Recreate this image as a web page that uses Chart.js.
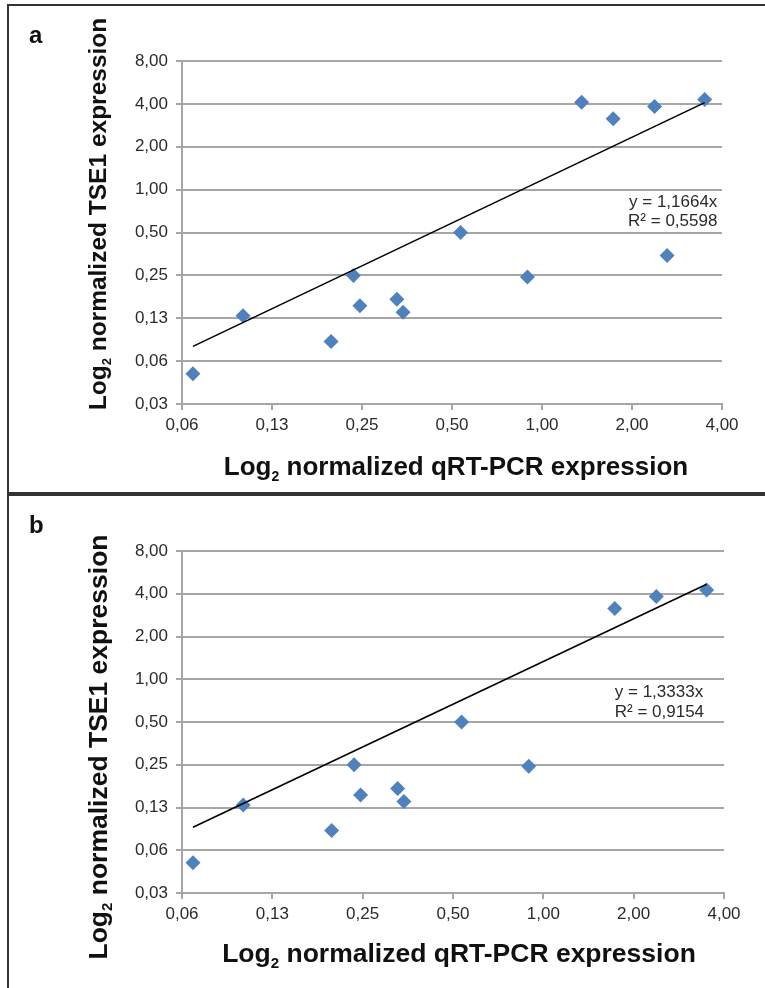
<!DOCTYPE html>
<html>
<head>
<meta charset="utf-8">
<script src="https://cdn.jsdelivr.net/npm/chart.js@4.4.1/dist/chart.umd.min.js"></script>
<style>
  html, body { margin: 0; padding: 0; background: #fff; }
  body { width: 765px; height: 988px; position: relative; overflow: hidden; }
  .frame { position: absolute; left: 7px; width: 800px; border: 2px solid #333; border-right: none; }
  #frameA { top: 4px; height: 488px; }
  #frameB { top: 492px; height: 520px; }
  .panel { position: absolute; left: 0; width: 765px; height: 494px; }
  #panelA { top: 0; }
  #panelB { top: 494px; }
</style>
</head>
<body>
<div class="frame" id="frameA"></div>
<div class="frame" id="frameB"></div>
<div class="panel" id="panelA"><canvas id="chartA" width="765" height="494"></canvas></div>
<div class="panel" id="panelB"><canvas id="chartB" width="765" height="494"></canvas></div>

<script>
// ------------------------------
// DATA
// ------------------------------
const xTickValues = [0.0625, 0.125, 0.25, 0.5, 1, 2, 4];
const xTickLabels = ["0,06", "0,13", "0,25", "0,50", "1,00", "2,00", "4,00"];
const yTickValues = [0.03125, 0.0625, 0.125, 0.25, 0.5, 1, 2, 4, 8];
const yTickLabels = ["0,03", "0,06", "0,13", "0,25", "0,50", "1,00", "2,00", "4,00", "8,00"];

// panel a: all samples
const qpcrA = [0.068, 0.100, 0.197, 0.234, 0.246, 0.327, 0.343, 0.534, 0.894, 1.357, 1.73, 2.38, 2.62, 3.50];
const tse1A = [0.051, 0.130, 0.086, 0.250, 0.153, 0.170, 0.138, 0.500, 0.244, 4.11, 3.15, 3.83, 0.345, 4.29];

// panel b: two outliers removed
const qpcrB = [0.068, 0.100, 0.197, 0.234, 0.246, 0.327, 0.343, 0.534, 0.894, 1.73, 2.38, 3.50];
const tse1B = [0.051, 0.130, 0.086, 0.250, 0.153, 0.170, 0.138, 0.500, 0.244, 3.15, 3.83, 4.25];

// linear trendlines through the origin, as printed on the chart
const slopeA = 1.1664;
const slopeB = 1.3333;
const equationA = ["y = 1,1664x", "R² = 0,5598"];
const equationB = ["y = 1,3333x", "R² = 0,9154"];

const xTitleText = " normalized qRT-PCR expression";
const yTitleText = " normalized TSE1 expression";

const BLUE = "#4f81bd";
const GRID = "#a6a6a6";
const TEXT = "#2b2b2b";

// ------------------------------
// HELPERS
// ------------------------------
function toPoints(xs, ys) {
  return xs.map((x, i) => ({ x: x, y: ys[i] }));
}

function trendPoints(xs, slope) {
  const lo = Math.min(...xs);
  const hi = Math.max(...xs);
  return [{ x: lo, y: slope * lo }, { x: hi, y: slope * hi }];
}

// "Log" + subscript 2 + rest, centred on (cx, baseline)
function drawLogTitle(ctx, rest, cx, baseline, size) {
  const big = `bold ${size}px "Liberation Sans", Arial, sans-serif`;
  const small = `bold ${Math.round(size * 0.55)}px "Liberation Sans", Arial, sans-serif`;
  ctx.font = big;
  const w1 = ctx.measureText("Log").width;
  const w3 = ctx.measureText(rest).width;
  ctx.font = small;
  const w2 = ctx.measureText("2").width;
  let x = cx - (w1 + w2 + w3) / 2;
  ctx.textAlign = "left";
  ctx.textBaseline = "alphabetic";
  ctx.font = big;
  ctx.fillText("Log", x, baseline);
  x += w1;
  ctx.font = small;
  ctx.fillText("2", x, baseline + size * 0.22);
  x += w2;
  ctx.font = big;
  ctx.fillText(rest, x, baseline);
}

const panelText = {
  id: "panelText",
  afterDraw(chart, args, opts) {
    const ctx = chart.ctx;
    const xs = chart.scales.x;
    const ys = chart.scales.y;
    ctx.save();
    ctx.fillStyle = "#111";

    // panel letter
    ctx.font = 'bold 24px "Liberation Sans", Arial, sans-serif';
    ctx.textAlign = "left";
    ctx.textBaseline = "alphabetic";
    ctx.fillText(opts.letter, opts.letterX, opts.letterY);

    // axis titles
    drawLogTitle(ctx, xTitleText, opts.xTitleX, opts.xTitleY, opts.xTitleSize);
    ctx.save();
    ctx.translate(opts.yTitleX, opts.yTitleY);
    ctx.rotate(-Math.PI / 2);
    drawLogTitle(ctx, yTitleText, 0, opts.yTitleSize * 0.36, opts.yTitleSize);
    ctx.restore();

    // trendline equation
    ctx.fillStyle = TEXT;
    ctx.font = '17px "Liberation Sans", Arial, sans-serif';
    ctx.textAlign = opts.eqAlign;
    ctx.textBaseline = "middle";
    const ex = xs.getPixelForValue(opts.eqX);
    ctx.fillText(opts.equation[0], ex, ys.getPixelForValue(opts.eqY[0]));
    ctx.fillText(opts.equation[1], ex, ys.getPixelForValue(opts.eqY[1]));
    ctx.restore();
  }
};

function buildChart(canvasId, xs, ys, slope, layoutPad, xAxisHeight, textOpts) {
  return new Chart(document.getElementById(canvasId), {
    type: "scatter",
    data: {
      datasets: [
        {
          label: "trend",
          type: "line",
          data: trendPoints(xs, slope),
          borderColor: "#000",
          borderWidth: 1.6,
          pointRadius: 0,
          fill: false,
          order: 0
        },
        {
          label: "samples",
          data: toPoints(xs, ys),
          pointStyle: "rectRot",
          pointRadius: 7.5,
          pointBackgroundColor: BLUE,
          pointBorderColor: BLUE,
          pointBorderWidth: 0,
          order: 1
        }
      ]
    },
    options: {
      responsive: false,
      animation: false,
      events: [],
      layout: { padding: layoutPad },
      plugins: {
        legend: { display: false },
        tooltip: { enabled: false },
        panelText: textOpts
      },
      scales: {
        x: {
          type: "logarithmic",
          min: 0.0625,
          max: 4,
          afterBuildTicks: (scale) => { scale.ticks = xTickValues.map(v => ({ value: v })); },
          afterFit: (scale) => { scale.height = xAxisHeight; },
          grid: { drawOnChartArea: false, drawTicks: true, tickLength: 6, color: GRID, lineWidth: 2 },
          border: { display: true, color: GRID, width: 2 },
          ticks: {
            autoSkip: false,
            maxRotation: 0,
            padding: 5,
            color: TEXT,
            font: { family: '"Liberation Sans", Arial, sans-serif', size: 17 },
            callback: (value, index) => xTickLabels[index]
          }
        },
        y: {
          type: "logarithmic",
          min: 0.03125,
          max: 8,
          afterBuildTicks: (scale) => { scale.ticks = yTickValues.map(v => ({ value: v })); },
          afterFit: (scale) => { scale.width = 182; },
          grid: { drawOnChartArea: true, drawTicks: true, tickLength: 6, color: GRID, lineWidth: 2 },
          border: { display: true, color: GRID, width: 2 },
          ticks: {
            autoSkip: false,
            padding: 8,
            color: TEXT,
            font: { family: '"Liberation Sans", Arial, sans-serif', size: 17 },
            callback: (value, index) => yTickLabels[index]
          }
        }
      }
    },
    plugins: [panelText]
  });
}

// ------------------------------
// PANEL a
// ------------------------------
buildChart("chartA", qpcrA, tse1A, slopeA,
  { top: 61, right: 43, bottom: 0, left: 0 }, 90,
  {
    letter: "a", letterX: 29, letterY: 43,
    xTitleX: 456, xTitleY: 475, xTitleSize: 26,
    yTitleX: 97, yTitleY: 214, yTitleSize: 24.5,
    equation: equationA, eqAlign: "right", eqX: 3.86, eqY: [0.82, 0.60]
  });

// ------------------------------
// PANEL b
// ------------------------------
buildChart("chartB", qpcrB, tse1B, slopeB,
  { top: 57, right: 41, bottom: 0, left: 0 }, 95,
  {
    letter: "b", letterX: 29, letterY: 39,
    xTitleX: 459, xTitleY: 468, xTitleSize: 26.5,
    yTitleX: 97, yTitleY: 253, yTitleSize: 26.5,
    equation: equationB, eqAlign: "left", eqX: 1.73, eqY: [0.81, 0.585]
  });
</script>
</body>
</html>
